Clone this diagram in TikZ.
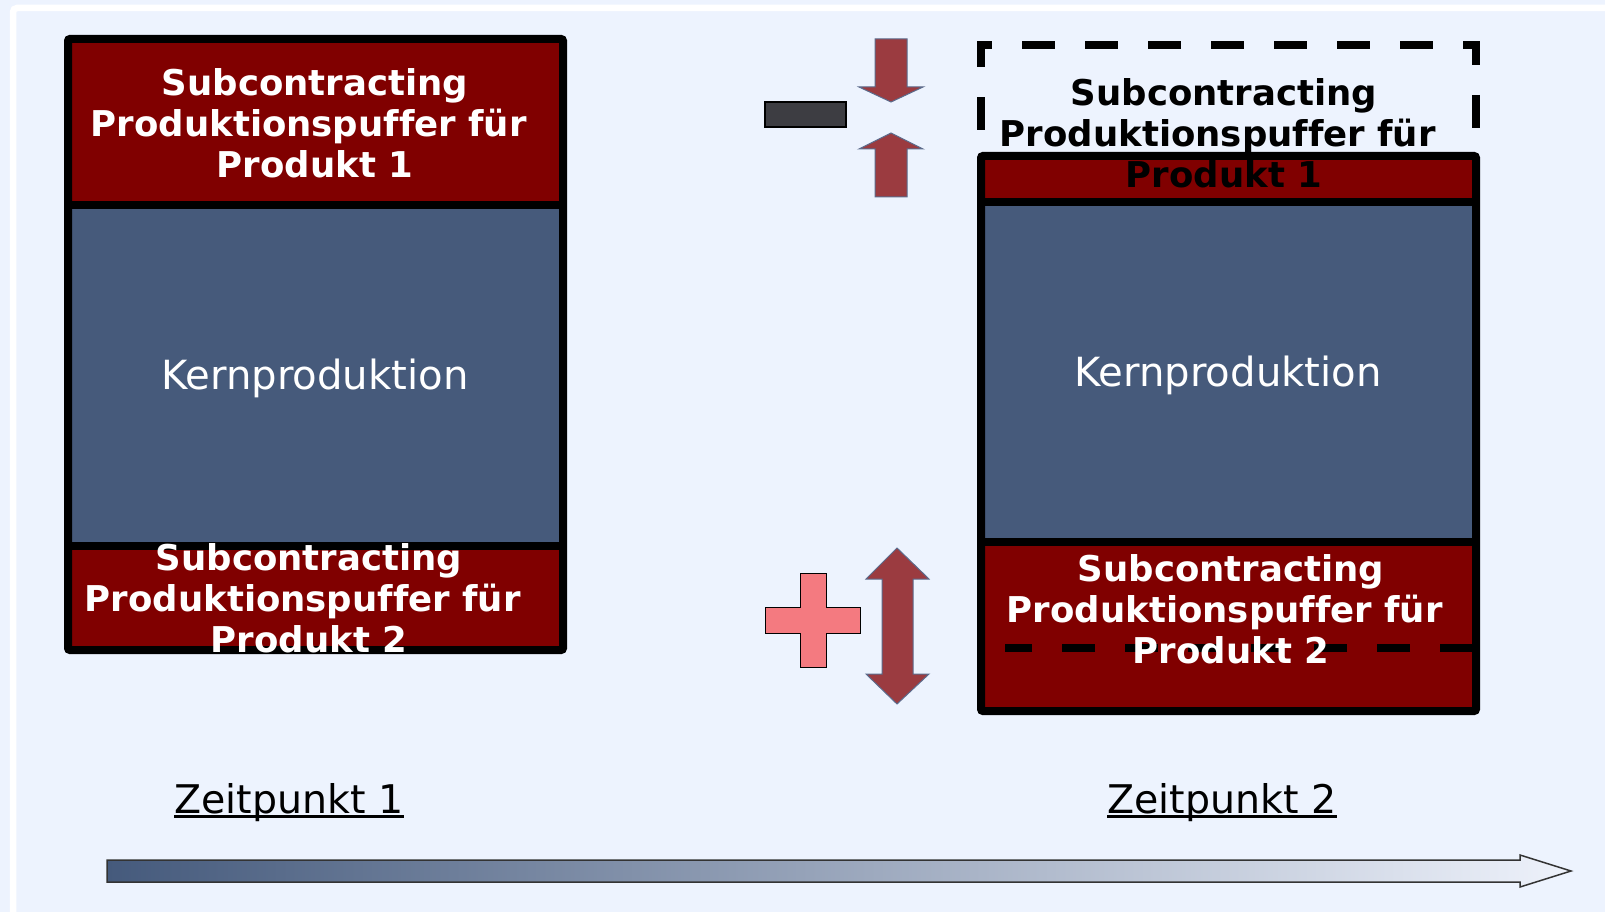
\documentclass[tikz,border=0pt]{standalone}
\usepackage{fontspec}
\setmainfont{DejaVu Sans}[Ligatures=CommonOff]

\definecolor{pagebg}{HTML}{EDF3FE}
\definecolor{bufred}{HTML}{800000}
\definecolor{coreblue}{HTML}{465A7B}
\definecolor{arrowred}{HTML}{9B3B40}
\definecolor{arrowedge}{HTML}{5B6B8C}
\definecolor{pluspink}{HTML}{F47A80}
\definecolor{minusgray}{HTML}{3D3D42}
\definecolor{timedark}{HTML}{455A7C}
\definecolor{timelight}{HTML}{EEF2FB}

\tikzset{
  boxframe/.style={draw=black, line width=8pt, rounded corners=2pt},
  boxline/.style={draw=black, line width=8pt},
  oldframe/.style={draw=black, line width=8pt, dash pattern=on 33pt off 30pt},
  buftext/.style={font=\bfseries\fontsize{35.5}{41}\selectfont, text=white, align=center, inner sep=0pt},
  coretext/.style={font=\fontsize{40.2}{46}\selectfont, text=white, inner sep=0pt},
  timetext/.style={font=\fontsize{39.5}{46}\selectfont, inner sep=0pt, anchor=base},
  bigarrow/.style={fill=arrowred, draw=arrowedge, line width=1pt},
}

\begin{document}
\begin{tikzpicture}[x=1pt, y=-1pt]
\useasboundingbox (0,0) rectangle (1605,912);
\fill[pagebg] (0,0) rectangle (1605,912);
\draw[white, line width=6.5pt, rounded corners=4pt] (13,8) rectangle (1640,950);

% Zeitpunkt 1
\fill[bufred] (68,39) rectangle (563,205);
\fill[coreblue] (68,205) rectangle (563,546);
\fill[bufred] (68,546) rectangle (563,650);
\draw[boxframe] (68,39) rectangle (563,650);
\draw[boxline] (68,205) -- (563,205);
\draw[boxline] (68,546) -- (563,546);

% Zeitpunkt 2
\fill[bufred] (981,156) rectangle (1476,202);
\fill[coreblue] (981,202) rectangle (1476,542);
\fill[bufred] (981,542) rectangle (1476,711);
\draw[boxframe] (981,156) rectangle (1476,711);
\draw[boxline] (981,202) -- (1476,202);
\draw[boxline] (981,542) -- (1476,542);
% old position
\draw[oldframe, dash phase=49pt] (981,648) -- (981,45) -- (1476,45) -- (1476,648);
\draw[oldframe, dash phase=60pt] (1476,648) -- (1005,648);

% texts
\node[buftext] (top1) at (315,123) {Subcontracting\\Produktionspuffer für\kern0.35em\\Produkt 1};
\node[coretext] (kern1) at (315,378) {Kernproduktion};
\node[buftext] (bottom1) at (309,598) {Subcontracting\\Produktionspuffer für\kern0.35em\\Produkt 2};
\node[buftext, text=black] (top2) at (1224,133) {Subcontracting\\Produktionspuffer für\kern0.35em\\Produkt 1};
\node[coretext] (kern2) at (1228,375) {Kernproduktion};
\node[buftext] (bottom2) at (1231,609) {Subcontracting\\Produktionspuffer für\kern0.35em\\Produkt 2};

% minus / plus
\draw[fill=minusgray, line width=1.5pt] (765,102) rectangle (846,127);
\draw[bigarrow] (875,39) -- (907,39) -- (907,87) -- (923,87) -- (891,102) -- (859,87) -- (875,87) -- cycle;
\draw[bigarrow] (891,133) -- (923,149) -- (907,149) -- (907,197) -- (875,197) -- (875,149) -- (859,149) -- cycle;
\draw[fill=pluspink, line width=1pt] (800,573) -- (826,573) -- (826,607) -- (860,607) -- (860,633) -- (826,633)
  -- (826,667) -- (800,667) -- (800,633) -- (765,633) -- (765,607) -- (800,607) -- cycle;
\draw[bigarrow] (897,548) -- (929,579) -- (913,579) -- (913,674) -- (929,674) -- (897,704) -- (866,674)
  -- (882,674) -- (882,579) -- (866,579) -- cycle;

% time axis
\node[timetext] (zeit1) at (289,813) {Zeitpunkt 1};
\node[timetext] (zeit2) at (1222,813) {Zeitpunkt 2};
\draw[line width=2.5pt] ([yshift=-3.5pt]zeit1.base west) -- ([yshift=-3.5pt]zeit1.base east);
\draw[line width=2.5pt] ([yshift=-3.5pt]zeit2.base west) -- ([yshift=-3.5pt]zeit2.base east);
\draw[left color=timedark, right color=timelight, draw=black!80, line width=1.5pt]
  (107,860) -- (1520,860) -- (1520,855) -- (1571,871) -- (1520,887) -- (1520,882) -- (107,882) -- cycle;
\end{tikzpicture}
\end{document}
